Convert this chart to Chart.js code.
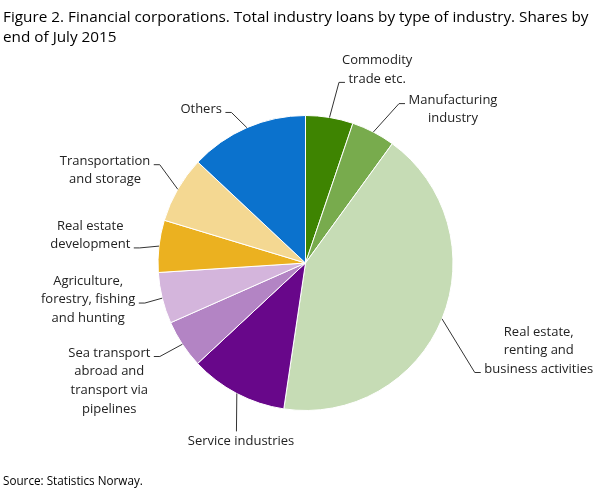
<!DOCTYPE html>
<html>
<head>
<meta charset="utf-8">
<script src="https://cdn.jsdelivr.net/npm/chart.js@4/dist/chart.umd.min.js"></script>
<style>
  html, body { margin: 0; padding: 0; background: #fff; }
  #wrap { position: relative; width: 608px; height: 489px; overflow: hidden; }
  #grafico { position: absolute; left: 0; top: 0; }
  #titulo { position: absolute; left: 3px; top: 6px; width: 604px; font: 15.3px "Open Sans", sans-serif; line-height: 20px; color: #000; }
  #fuente { position: absolute; left: 3px; top: 472px; font: 11.7px "Open Sans", sans-serif; color: #000; }
</style>
</head>
<body>
<div id="wrap">
  <canvas id="grafico" width="608" height="489"></canvas>
  <div id="titulo">Figure 2. Financial corporations. Total industry loans by type of industry. Shares by end of July 2015</div>
  <div id="fuente">Source: Statistics Norway.</div>
</div>
<script>
// datos (porcentaje del total)
const industrias = [
    "Commodity trade etc.",
    "Manufacturing industry",
    "Real estate, renting and business activities",
    "Service industries",
    "Sea transport abroad and transport via pipelines",
    "Agriculture, forestry, fishing and hunting",
    "Real estate development",
    "Transportation and storage",
    "Others"
];
const shares = [5.2, 4.8, 42.3, 10.7, 5.3, 5.6, 5.7, 7.3, 13.0];
const etiquetas = [
    ["Commodity", "trade etc."],
    ["Manufacturing", "industry"],
    ["Real estate,", "renting and", "business activities"],
    ["Service industries"],
    ["Sea transport", "abroad and", "transport via", "pipelines"],
    ["Agriculture,", "forestry, fishing", "and hunting"],
    ["Real estate", "development"],
    ["Transportation", "and storage"],
    ["Others"]
];
const colores = ["#3e8401", "#78ab4d", "#c6dcb5", "#68078a", "#b384c4", "#d4b5dc", "#ebb120", "#f4d892", "#0b72cd"];

// donde se dobla la linea guia de cada etiqueta (angulo en grados, distancia al centro), lado y linea de texto enganchada
const guias = [
    { ang: 10.5, dist: 183.7, lado: "r", linea: 1 },
    { ang: 30.4, dist: 184.8, lado: "r", linea: 0 },
    { ang: 122.9, dist: 201.6, lado: "r", linea: 2 },
    { ang: 202.3, dist: 182, lado: "b", linea: 0 },
    { ang: 237.3, dist: 173.1, lado: "l", linea: 0 },
    { ang: 256, dist: 165.6, lado: "l", linea: 1 },
    { ang: 275.2, dist: 166.4, lado: "l", linea: 1 },
    { ang: 304, dist: 175.8, lado: "l", linea: 0 },
    { ang: 333.8, dist: 167.8, lado: "l", linea: 0 }
];

const grafico = document.getElementById("grafico");

const pluginEtiquetas = {
    id: "etiquetas",
    afterDatasetsDraw(chart) {
        const ctx = chart.ctx;
        const arcs = chart.getDatasetMeta(0).data;
        ctx.save();
        ctx.font = '13px "Open Sans"';
        ctx.fillStyle = "#222";
        ctx.strokeStyle = "#333";
        ctx.lineWidth = 1;
        ctx.textBaseline = "middle";
        ctx.textAlign = "center";
        const altoLinea = 18.6;

        arcs.forEach((arc, i) => {
            const p = arc.getProps(["x", "y", "startAngle", "endAngle", "outerRadius"], true);
            const mid = (p.startAngle + p.endAngle) / 2;
            const sx = p.x + Math.cos(mid) * p.outerRadius;
            const sy = p.y + Math.sin(mid) * p.outerRadius;
            const g = guias[i];
            const a = (g.ang - 90) * Math.PI / 180;
            const ex = p.x + Math.cos(a) * g.dist;
            const ey = p.y + Math.sin(a) * g.dist;
            const lineas = etiquetas[i];

            ctx.beginPath();
            ctx.moveTo(sx, sy);
            ctx.lineTo(ex, ey);
            let cx, cy0;
            if (g.lado == "b") {
                ctx.stroke();
                cx = ex + 4.6;
                cy0 = ey + 10;
            } else {
                const hx = g.lado == "r" ? ex + 6 : ex - 6;
                ctx.lineTo(hx, ey);
                ctx.stroke();
                const w = ctx.measureText(lineas[g.linea]).width;
                cx = g.lado == "r" ? hx + 3.5 + w / 2 : hx - 3.5 - w / 2;
                cy0 = ey - 3.5 - g.linea * altoLinea;
            }
            lineas.forEach((t, k) => {
                ctx.fillText(t, cx, cy0 + k * altoLinea);
            });
        });
        ctx.restore();
    }
};

const config = {
    type: "pie",
    data: {
        labels: industrias,
        datasets: [{
            data: shares,
            backgroundColor: colores,
            borderColor: "#ffffff",
            borderWidth: 1
        }]
    },
    options: {
        responsive: false,
        animation: false,
        layout: {
            padding: { left: 157, right: 154, top: 115, bottom: 78 }
        },
        plugins: {
            legend: { display: false },
            tooltip: { enabled: false }
        }
    },
    plugins: [pluginEtiquetas]
};

new Chart(grafico, config);
</script>
</body>
</html>
